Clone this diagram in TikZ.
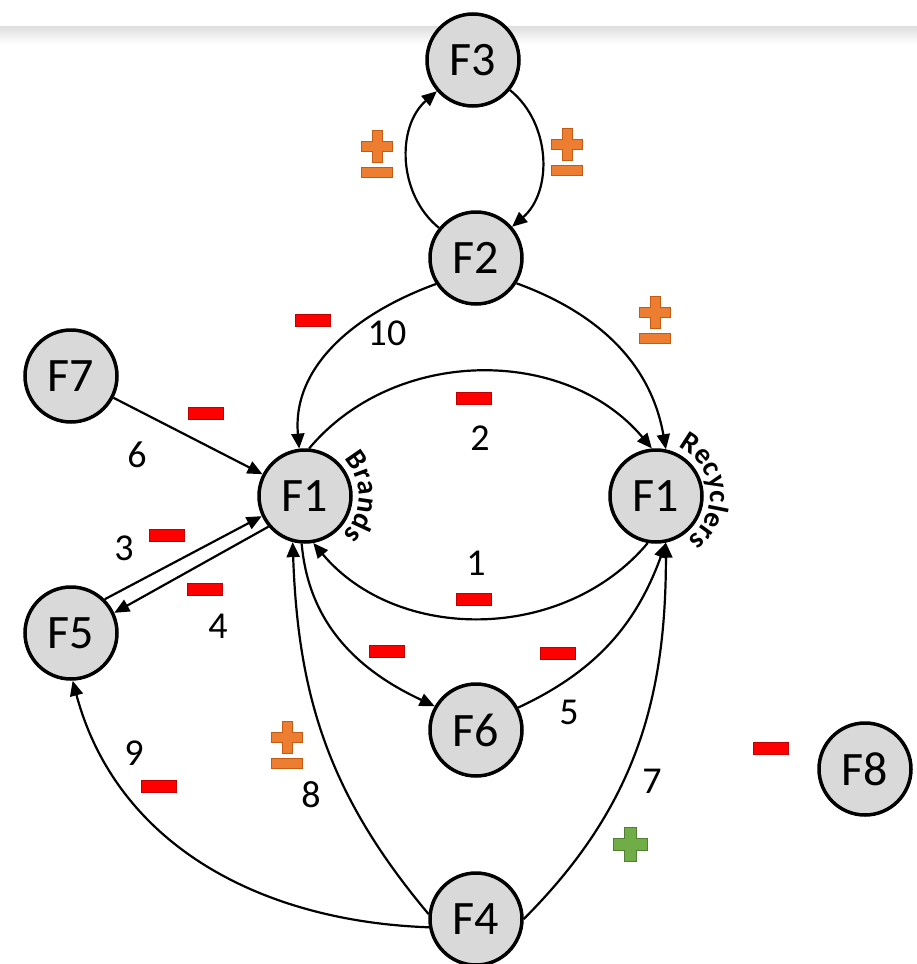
\documentclass[tikz,border=0pt]{standalone}
\usepackage{fontspec}
\setmainfont{Carlito}
\usetikzlibrary{arrows.meta,decorations.text}

\definecolor{nodegray}{HTML}{D9D9D9}
\definecolor{negred}{HTML}{FF0000}
\definecolor{negredline}{HTML}{C00000}
\definecolor{pmorange}{HTML}{ED7D31}
\definecolor{pmorangeline}{HTML}{C55A11}
\definecolor{posgreen}{HTML}{70AD47}
\definecolor{posgreenline}{HTML}{507E32}

\begin{document}
\begin{tikzpicture}[x=1pt,y=1pt,line width=2.2pt,>={Triangle[length=15pt,width=13pt]},
    factor/.style={circle,draw=black,line width=3.5pt,fill=nodegray,minimum size=92pt,inner sep=0pt,font=\fontsize{48}{50}\selectfont},
    num/.style={inner sep=0pt,font=\fontsize{38}{40}\selectfont},
    neg/.style={rectangle,fill=negred,draw=negredline,line width=1pt,minimum width=35pt,minimum height=12pt,inner sep=0pt},
    pmlook/.style={fill=pmorange,draw=pmorangeline,line width=1pt,line join=miter},
    poslook/.style={fill=posgreen,draw=posgreenline,line width=1pt,line join=miter},
    plussign/.pic={\path[pic actions] (-6,17) -- (6,17) -- (6,6) -- (17,6) -- (17,-6) -- (6,-6) -- (6,-17) -- (-6,-17) -- (-6,-6) -- (-17,-6) -- (-17,6) -- (-6,6) -- cycle;},
    pmsign/.pic={\path[pic actions] (-5,29) -- (5,29) -- (5,18) -- (15.5,18) -- (15.5,8) -- (5,8) -- (5,-3) -- (-5,-3) -- (-5,8) -- (-15.5,8) -- (-15.5,18) -- (-5,18) -- cycle;
        \path[pic actions] (-15.5,-8) rectangle (15.5,-18);}]
    \useasboundingbox (0,0) rectangle (917,-964);
    \fill[white] (0,0) rectangle (917,-964);
    \shade[top color=black!13,bottom color=white] (0,-26) rectangle (917,-44);

    % factors
    \node[factor] (f3) at (473,-60) {F3};
    \node[factor] (f2) at (476,-258) {F2};
    \node[factor] (f7) at (71,-376) {F7};
    \node[factor] (f1b) at (305,-496) {F1};
    \node[factor] (f1r) at (656,-496) {F1};
    \node[factor] (f5) at (71,-633) {F5};
    \node[factor] (f6) at (476,-730) {F6};
    \node[factor] (f8) at (865,-769) {F8};
    \node[factor] (f4) at (476,-919) {F4};
    \path[decorate,decoration={text along path,text align=center,text={|\bfseries\fontsize{29}{29}\selectfont|Brands}}]
        ([shift={(55:54)}]f1b.center) arc[start angle=55,end angle=-57,radius=54];
    \path[decorate,decoration={text along path,text align=center,text={|\bfseries\fontsize{29}{29}\selectfont|Recyclers}}]
        ([shift={(70:54)}]f1r.center) arc[start angle=70,end angle=-58,radius=54];

    % links
    \draw[<-] (f3) to[bend right=50] (f2);
    \draw[<-] (f2) to[bend right=50] (f3);
    \draw[<-] (f1b.97) to[out=95,in=200] (f2.213);
    \draw[<-] (f1r.78) to[out=100,in=-20] (f2.328);
    \draw[<-] (f1b) -- (f7);
    \draw[<-] (f1r.95) to[out=130,in=50] (f1b.85);
    \draw[<-] (f1b.280) to[out=-50,in=230] (f1r.260);
    \draw[<-] (f1b.205) -- (f5.45);
    \draw[<-] (f5.25) -- (f1b.220);
    \draw[<-] (f6.150) to[out=155,in=-85] (f1b.266);
    \draw[<-] (f1r.282) to[out=-110,in=25] (f6.28);
    \draw[<-] (f5.272) to[out=-75,in=178] (f4.190);
    \draw[<-] (f1b.255) to[out=-88,in=130] (f4.174);
    \draw[<-] (f1r.282) to[out=-90,in=45] (f4.0);

    % numbers
    \node[num] (n10) at (387,-333) {10};
    \node[num] (n6) at (137,-455) {6};
    \node[num] (n2) at (480,-438) {2};
    \node[num] (n1) at (476,-563) {1};
    \node[num] (n3) at (124,-548) {3};
    \node[num] (n4) at (218,-626) {4};
    \node[num] (n5) at (569,-712) {5};
    \node[num] (n9) at (134,-753) {9};
    \node[num] (n8) at (311,-795) {8};
    \node[num] (n7) at (652,-781) {7};

    % signs
    \node[neg] (s10) at (313,-320) {};
    \node[neg] (s6) at (206,-413) {};
    \node[neg] (s2) at (474,-398) {};
    \node[neg] (s3) at (167,-535) {};
    \node[neg] (s4) at (205,-589) {};
    \node[neg] (s1) at (474,-599) {};
    \node[neg] (s11) at (387,-651) {};
    \node[neg] (s5) at (558,-653) {};
    \node[neg] (s9) at (159,-786) {};
    \node[neg] (s12) at (771,-748) {};
    \pic[pmlook] at (377,-159) {pmsign};
    \pic[pmlook] at (567,-157) {pmsign};
    \pic[pmlook] at (655,-325) {pmsign};
    \pic[pmlook] at (287,-750) {pmsign};
    \pic[poslook] at (630,-844) {plussign};
\end{tikzpicture}
\end{document}
